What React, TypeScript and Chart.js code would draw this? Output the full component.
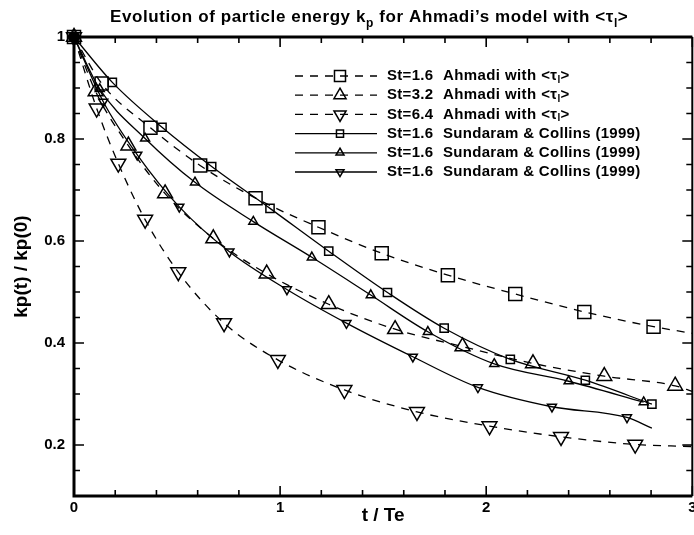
import { useEffect, useRef } from 'react';
import { Chart, registerables } from 'chart.js';

Chart.register(...registerables);

// Axis tick labels
const xTickValues = [0, 1, 2, 3];
const yTickValues = [0.2, 0.4, 0.6, 0.8, 1];

// St=1.6, Ahmadi with <τl>  (last point carries the curve to the t = 3 frame, no symbol)
const ahmadi16T = [0, 0.134, 0.371, 0.612, 0.881, 1.186, 1.493, 1.814, 2.141, 2.476, 2.812, 3.0];
const ahmadi16K = [1, 0.909, 0.822, 0.748, 0.684, 0.627, 0.576, 0.533, 0.496, 0.461, 0.432, 0.419];

// St=3.2, Ahmadi with <τl>
const ahmadi32T = [0, 0.105, 0.264, 0.442, 0.676, 0.935, 1.236, 1.558, 1.885, 2.227, 2.573, 2.917, 3.0];
const ahmadi32K = [1, 0.893, 0.787, 0.693, 0.605, 0.536, 0.476, 0.427, 0.393, 0.36, 0.335, 0.316, 0.305];

// St=6.4, Ahmadi with <τl>
const ahmadi64T = [0, 0.11, 0.215, 0.345, 0.506, 0.728, 0.989, 1.312, 1.664, 2.016, 2.363, 2.723, 3.0];
const ahmadi64K = [1, 0.86, 0.752, 0.642, 0.539, 0.439, 0.367, 0.308, 0.265, 0.237, 0.216, 0.201, 0.197];

// Sundaram & Collins (1999), square symbols
const scSquareT = [0, 0.186, 0.427, 0.668, 0.951, 1.236, 1.521, 1.796, 2.117, 2.481, 2.804];
const scSquareK = [1, 0.911, 0.823, 0.746, 0.664, 0.58, 0.499, 0.429, 0.368, 0.327, 0.28];

// Sundaram & Collins (1999), triangle symbols
const scTriT = [0, 0.125, 0.345, 0.587, 0.87, 1.154, 1.44, 1.717, 2.039, 2.4, 2.764];
const scTriK = [1, 0.898, 0.801, 0.715, 0.638, 0.568, 0.494, 0.422, 0.359, 0.325, 0.284];

// Sundaram & Collins (1999), inverted triangle symbols (curve runs on past the last symbol)
const scDownT = [0, 0.142, 0.307, 0.511, 0.754, 1.033, 1.322, 1.644, 1.96, 2.319, 2.683, 2.804];
const scDownK = [1, 0.873, 0.769, 0.667, 0.579, 0.505, 0.439, 0.373, 0.313, 0.275, 0.254, 0.233];

const FONT = '"Liberation Sans", Arial, Helvetica, sans-serif';

type Shape = 'rect' | 'triangle' | 'triangleDown';

interface SeriesDef {
  st: string;
  source: string;
  tau: boolean;
  t: number[];
  k: number[];
  shape: Shape;
  radius: number;
  legendRadius: number;
  dashed: boolean;
  tail: boolean;
  solidStart: boolean;
}

const series: SeriesDef[] = [
  { st: 'St=1.6', source: 'Ahmadi with <τ', tau: true, t: ahmadi16T, k: ahmadi16K, shape: 'rect', radius: 9.2, legendRadius: 7.8, dashed: true, tail: true, solidStart: false },
  { st: 'St=3.2', source: 'Ahmadi with <τ', tau: true, t: ahmadi32T, k: ahmadi32K, shape: 'triangle', radius: 8.6, legendRadius: 7, dashed: true, tail: true, solidStart: false },
  { st: 'St=6.4', source: 'Ahmadi with <τ', tau: true, t: ahmadi64T, k: ahmadi64K, shape: 'triangleDown', radius: 8.6, legendRadius: 7, dashed: true, tail: true, solidStart: false },
  { st: 'St=1.6', source: 'Sundaram & Collins (1999)', tau: false, t: scSquareT, k: scSquareK, shape: 'rect', radius: 5.8, legendRadius: 5, dashed: false, tail: false, solidStart: true },
  { st: 'St=1.6', source: 'Sundaram & Collins (1999)', tau: false, t: scTriT, k: scTriK, shape: 'triangle', radius: 5.2, legendRadius: 4.6, dashed: false, tail: false, solidStart: false },
  { st: 'St=1.6', source: 'Sundaram & Collins (1999)', tau: false, t: scDownT, k: scDownK, shape: 'triangleDown', radius: 5.2, legendRadius: 4.6, dashed: false, tail: true, solidStart: false },
];

const DASH = [8, 7];

function drawMarker(ctx: CanvasRenderingContext2D, shape: Shape, x: number, y: number, r: number) {
  ctx.beginPath();
  if (shape === 'rect') {
    const s = r / Math.SQRT2;
    ctx.rect(x - s, y - s, 2 * s, 2 * s);
  } else {
    const dir = shape === 'triangleDown' ? -1 : 1;
    for (let i = 0; i < 3; i++) {
      const a = (i * 2 * Math.PI) / 3;
      const px = x + dir * Math.sin(a) * r;
      const py = y - dir * Math.cos(a) * r;
      if (i === 0) ctx.moveTo(px, py);
      else ctx.lineTo(px, py);
    }
    ctx.closePath();
  }
  ctx.stroke();
}

// Text runs with optional subscripts, e.g. "<τ" + "l" + ">"
function drawWithSub(
  ctx: CanvasRenderingContext2D,
  parts: { text: string; sub?: boolean }[],
  x: number,
  y: number,
  size: number,
  spacing: number,
) {
  let cx = x;
  const c: any = ctx;
  c.letterSpacing = `${spacing}px`;
  for (const p of parts) {
    const fs = p.sub ? Math.round(size * 0.68) : size;
    ctx.font = `bold ${fs}px ${FONT}`;
    ctx.fillText(p.text, cx, p.sub ? y + size * 0.28 : y);
    cx += ctx.measureText(p.text).width;
  }
  c.letterSpacing = '0px';
}

const decorPlugin = {
  id: 'decor',
  beforeDraw(chart: any) {
    const { ctx, width, height } = chart;
    ctx.save();
    ctx.fillStyle = '#fff';
    ctx.fillRect(0, 0, width, height);
    ctx.restore();
  },
  afterDraw(chart: any) {
    const { ctx, chartArea } = chart;
    const { left, right, top, bottom } = chartArea;
    const xs = chart.scales.x;
    const ys = chart.scales.y;
    ctx.save();
    ctx.strokeStyle = '#000';
    ctx.fillStyle = '#000';

    // inward tick marks on all four sides
    ctx.lineWidth = 1.6;
    const MAJ = 10;
    const MIN = 6;
    for (let i = 0; i <= 15; i++) {
      const v = i * 0.2;
      const major = i % 5 === 0;
      const len = major ? MAJ : MIN;
      const px = xs.getPixelForValue(v);
      ctx.beginPath();
      ctx.moveTo(px, bottom);
      ctx.lineTo(px, bottom - len);
      ctx.moveTo(px, top);
      ctx.lineTo(px, top + len);
      ctx.stroke();
    }
    for (let i = 2; i <= 20; i++) {
      const v = i * 0.05;
      const major = i % 4 === 0;
      const len = major ? MAJ : MIN;
      const py = ys.getPixelForValue(v);
      ctx.beginPath();
      ctx.moveTo(left, py);
      ctx.lineTo(left + len, py);
      ctx.moveTo(right, py);
      ctx.lineTo(right - len, py);
      ctx.stroke();
    }

    // frame
    ctx.lineWidth = 3;
    ctx.beginPath();
    ctx.moveTo(right, top);
    ctx.lineTo(left, top);
    ctx.lineTo(left, bottom);
    ctx.lineTo(right, bottom);
    ctx.stroke();
    ctx.lineWidth = 2;
    ctx.beginPath();
    ctx.moveTo(right, top);
    ctx.lineTo(right, bottom);
    ctx.stroke();

    // legend
    const rowY0 = 76;
    const rowGap = 19.2;
    const lineX0 = 295;
    const lineX1 = 377;
    const markX = 340;
    ctx.textBaseline = 'middle';
    ctx.textAlign = 'left';
    series.forEach((s, i) => {
      const y = rowY0 + i * rowGap;
      ctx.lineWidth = 1.3;
      ctx.setLineDash(s.dashed ? DASH : []);
      ctx.beginPath();
      ctx.moveTo(lineX0, y);
      ctx.lineTo(lineX1, y);
      ctx.stroke();
      ctx.setLineDash([]);
      ctx.lineWidth = 1.5;
      drawMarker(ctx, s.shape, markX, y, s.legendRadius);
      drawWithSub(ctx, [{ text: s.st }], 387, y, 15, 0.3);
      if (s.tau) {
        drawWithSub(ctx, [{ text: s.source }, { text: 'l', sub: true }, { text: '>' }], 443, y, 15, 0.4);
      } else {
        drawWithSub(ctx, [{ text: s.source }], 443, y, 15, 0.3);
      }
    });

    // title
    ctx.textBaseline = 'alphabetic';
    drawWithSub(
      ctx,
      [
        { text: 'Evolution of particle energy k' },
        { text: 'p', sub: true },
        { text: ' for Ahmadi’s model with <τ' },
        { text: 'l', sub: true },
        { text: '>' },
      ],
      110,
      22,
      17,
      0.6,
    );
    ctx.restore();
  },
};

export default function App() {
  const canvasRef = useRef<HTMLCanvasElement | null>(null);

  useEffect(() => {
    document.body.style.margin = '0';
    const canvas = canvasRef.current;
    if (!canvas) return;

    const datasets = series.map((s) => ({
      label: `${s.st} ${s.source}`,
      data: s.t.map((t, i) => ({ x: t, y: s.k[i] })),
      borderColor: '#000',
      borderWidth: 1.3,
      borderDash: s.dashed ? DASH : [],
      cubicInterpolationMode: 'monotone' as const,
      pointStyle: s.shape === 'rect' ? 'rect' : 'triangle',
      pointRotation: s.shape === 'triangleDown' ? 180 : 0,
      pointRadius: (c: any) => (s.tail && c.dataIndex === s.t.length - 1 ? 0 : s.radius),
      pointHoverRadius: 0,
      pointBorderColor: '#000',
      // the common starting state (0, 1) is where all symbols pile up into a solid blot
      pointBackgroundColor: (c: any) => (s.solidStart && c.dataIndex === 0 ? '#000' : 'rgba(0,0,0,0)'),
      pointBorderWidth: 1.5,
      clip: false as const,
    }));

    const tickFont = { family: FONT, size: 15, weight: 'bold' as const };
    const titleFont = { family: FONT, size: 19, weight: 'bold' as const };

    const chart = new Chart(canvas, {
      type: 'line',
      data: { datasets: datasets as any },
      options: {
        animation: false,
        responsive: false,
        devicePixelRatio: 1,
        events: [],
        layout: { padding: { top: 37, right: 0, bottom: 0, left: 0 } },
        plugins: {
          legend: { display: false },
          title: { display: false },
          tooltip: { enabled: false },
        },
        scales: {
          x: {
            type: 'linear',
            min: 0,
            max: 3,
            afterBuildTicks: (sc: any) => {
              sc.ticks = xTickValues.map((v) => ({ value: v }));
            },
            afterFit: (sc: any) => {
              sc.height = 39;
            },
            grid: { display: false, drawTicks: false },
            border: { display: false },
            ticks: {
              color: '#000',
              font: tickFont,
              padding: 3,
              maxRotation: 0,
              autoSkip: false,
              callback: (v: any) => String(v),
            },
            title: {
              display: true,
              text: 't / Te',
              color: '#000',
              font: titleFont,
              padding: { top: 0, bottom: 8 },
            },
          },
          y: {
            type: 'linear',
            min: 0.1,
            max: 1,
            afterBuildTicks: (sc: any) => {
              sc.ticks = yTickValues.map((v) => ({ value: v }));
            },
            afterFit: (sc: any) => {
              sc.width = 74;
            },
            grid: { display: false, drawTicks: false },
            border: { display: false },
            ticks: {
              color: '#000',
              font: tickFont,
              padding: 9,
              autoSkip: false,
              callback: (v: any) => String(v),
            },
            title: {
              display: true,
              text: 'kp(t) / kp(0)',
              color: '#000',
              font: titleFont,
              padding: { top: 10, bottom: 0 },
            },
          },
        },
      },
      plugins: [decorPlugin],
    });

    return () => chart.destroy();
  }, []);

  return (
    <div style={{ width: 694, height: 535, overflow: 'hidden', position: 'relative', background: '#fff' }}>
      <canvas ref={canvasRef} width={703} height={535} style={{ display: 'block' }} />
    </div>
  );
}
